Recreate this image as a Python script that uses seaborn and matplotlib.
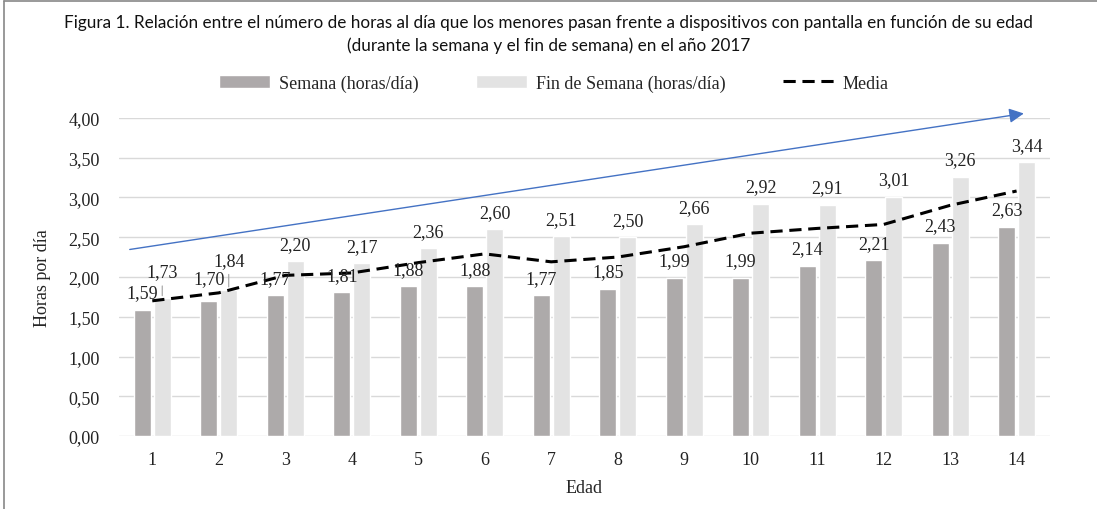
import numpy as np
import pandas as pd
import matplotlib
matplotlib.use("Agg")
import matplotlib.pyplot as plt
from matplotlib.patches import Patch
from matplotlib.lines import Line2D
import seaborn as sns

edad = [1, 2, 3, 4, 5, 6, 7, 8, 9, 10, 11, 12, 13, 14]
semana = [1.59, 1.70, 1.77, 1.81, 1.88, 1.88, 1.77, 1.85, 1.99, 1.99, 2.14, 2.21, 2.43, 2.63]
finde = [1.73, 1.84, 2.20, 2.17, 2.36, 2.60, 2.51, 2.50, 2.66, 2.92, 2.91, 3.01, 3.26, 3.44]
media = [1.70, 1.80, 2.02, 2.05, 2.18, 2.29, 2.19, 2.25, 2.38, 2.55, 2.61, 2.66, 2.90, 3.08]

serie_sem = "Semana (horas/día)"
serie_fin = "Fin de Semana (horas/día)"
c_sem = "#ADA9AA"
c_fin = "#E3E3E3"
titulo1 = ("Figura 1. Relación entre el número de horas al día que los menores pasan "
           "frente a dispositivos con pantalla en función de su edad")
titulo2 = "(durante la semana y el fin de semana) en el año 2017"

df = pd.DataFrame({
    "Edad": edad * 2,
    "horas": semana + finde,
    "serie": [serie_sem] * len(edad) + [serie_fin] * len(edad),
})

sns.set_style("white")
plt.rcParams["font.family"] = ["Liberation Serif", "DejaVu Serif"]

fig = plt.figure(figsize=(10.97, 5.10), dpi=100)
ax = fig.add_axes([0.1085, 0.143, 0.8485, 0.624])

sns.barplot(data=df, x="Edad", y="horas", hue="serie",
            palette=[c_sem, c_fin], width=0.6, gap=0.15,
            legend=False, ax=ax, zorder=2)

x = np.arange(len(edad))
dash = (0, (4, 2.2))
sns.lineplot(x=x, y=media, color="black", lw=2.2, linestyle=dash,
             ax=ax, zorder=4)

def fmt(v):
    return f"{v:.2f}".replace(".", ",")

# etiquetas desplazadas a mano en el original (serie, indice): puntos extra
extra = {(0, 1): 4, (1, 0): 7, (1, 1): 9}
for si, (cont, vals) in enumerate(zip(ax.containers, [semana, finde])):
    anns = ax.bar_label(cont, labels=[fmt(v) for v in vals], padding=6,
                        fontsize=13, color="#222222", zorder=6)
    for i, a in enumerate(anns):
        if (si, i) in extra:
            a.xyann = (0, 6 + extra[(si, i)])
            if si == 1:
                bx = cont[i].get_x() + cont[i].get_width() / 2
                ax.annotate("", xy=(bx, vals[i]), xytext=(0, extra[(si, i)] + 4),
                            textcoords="offset points",
                            arrowprops=dict(arrowstyle="-", color="#A0A0A0", lw=0.8))

# tendencia
ax.annotate("", xy=(13.15, 4.06), xytext=(-0.38, 2.34),
            arrowprops=dict(arrowstyle="-|>", color="#4472C4", lw=1,
                            mutation_scale=22),
            annotation_clip=False, zorder=5)

ax.set_ylim(0, 4.0)
ax.set_xlim(-0.5, 13.5)
ax.set_yticks(np.arange(0, 4.01, 0.5))
ax.set_yticklabels([fmt(v) for v in np.arange(0, 4.01, 0.5)])
ax.yaxis.grid(True, color="#D9D9D9", lw=1)
ax.set_axisbelow(True)
for s in ax.spines.values():
    s.set_visible(False)
ax.tick_params(length=0, labelsize=13, colors="#222222", pad=11)
ax.tick_params(axis="y", pad=14)
ax.set_xlabel("Edad", fontsize=13, labelpad=8)
ax.set_ylabel("Horas por día", fontsize=13, labelpad=12)

tfam = ["Lato", "DejaVu Sans"]
t1 = fig.text(0.5, 0.955, titulo1, ha="center", va="center", fontsize=13,
              family=tfam, color="#111111")
t2 = fig.text(0.5, 0.91, titulo2, ha="center", va="center", fontsize=13,
              family=tfam, color="#111111")
r = fig.canvas.get_renderer()
w = t1.get_window_extent(r).width
size = 13 * 962 / w
t1.set_fontsize(size)
t2.set_fontsize(size)

handles = [Patch(facecolor=c_sem), Patch(facecolor=c_fin),
           Line2D([], [], color="black", lw=2.2, linestyle=dash)]
fig.legend(handles, [serie_sem, serie_fin, "Media"], loc="center",
           bbox_to_anchor=(0.505, 0.835), ncol=3, frameon=False,
           fontsize=13, handlelength=2.8, columnspacing=3.2,
           handletextpad=0.5)

fig.add_artist(Line2D([0.004, 0.004], [0, 0.996], transform=fig.transFigure,
                      color="#888888", lw=1.2))
fig.add_artist(Line2D([0.004, 1], [0.996, 0.996], transform=fig.transFigure,
                      color="#888888", lw=1.2))

fig.savefig("out.png", dpi=100)
